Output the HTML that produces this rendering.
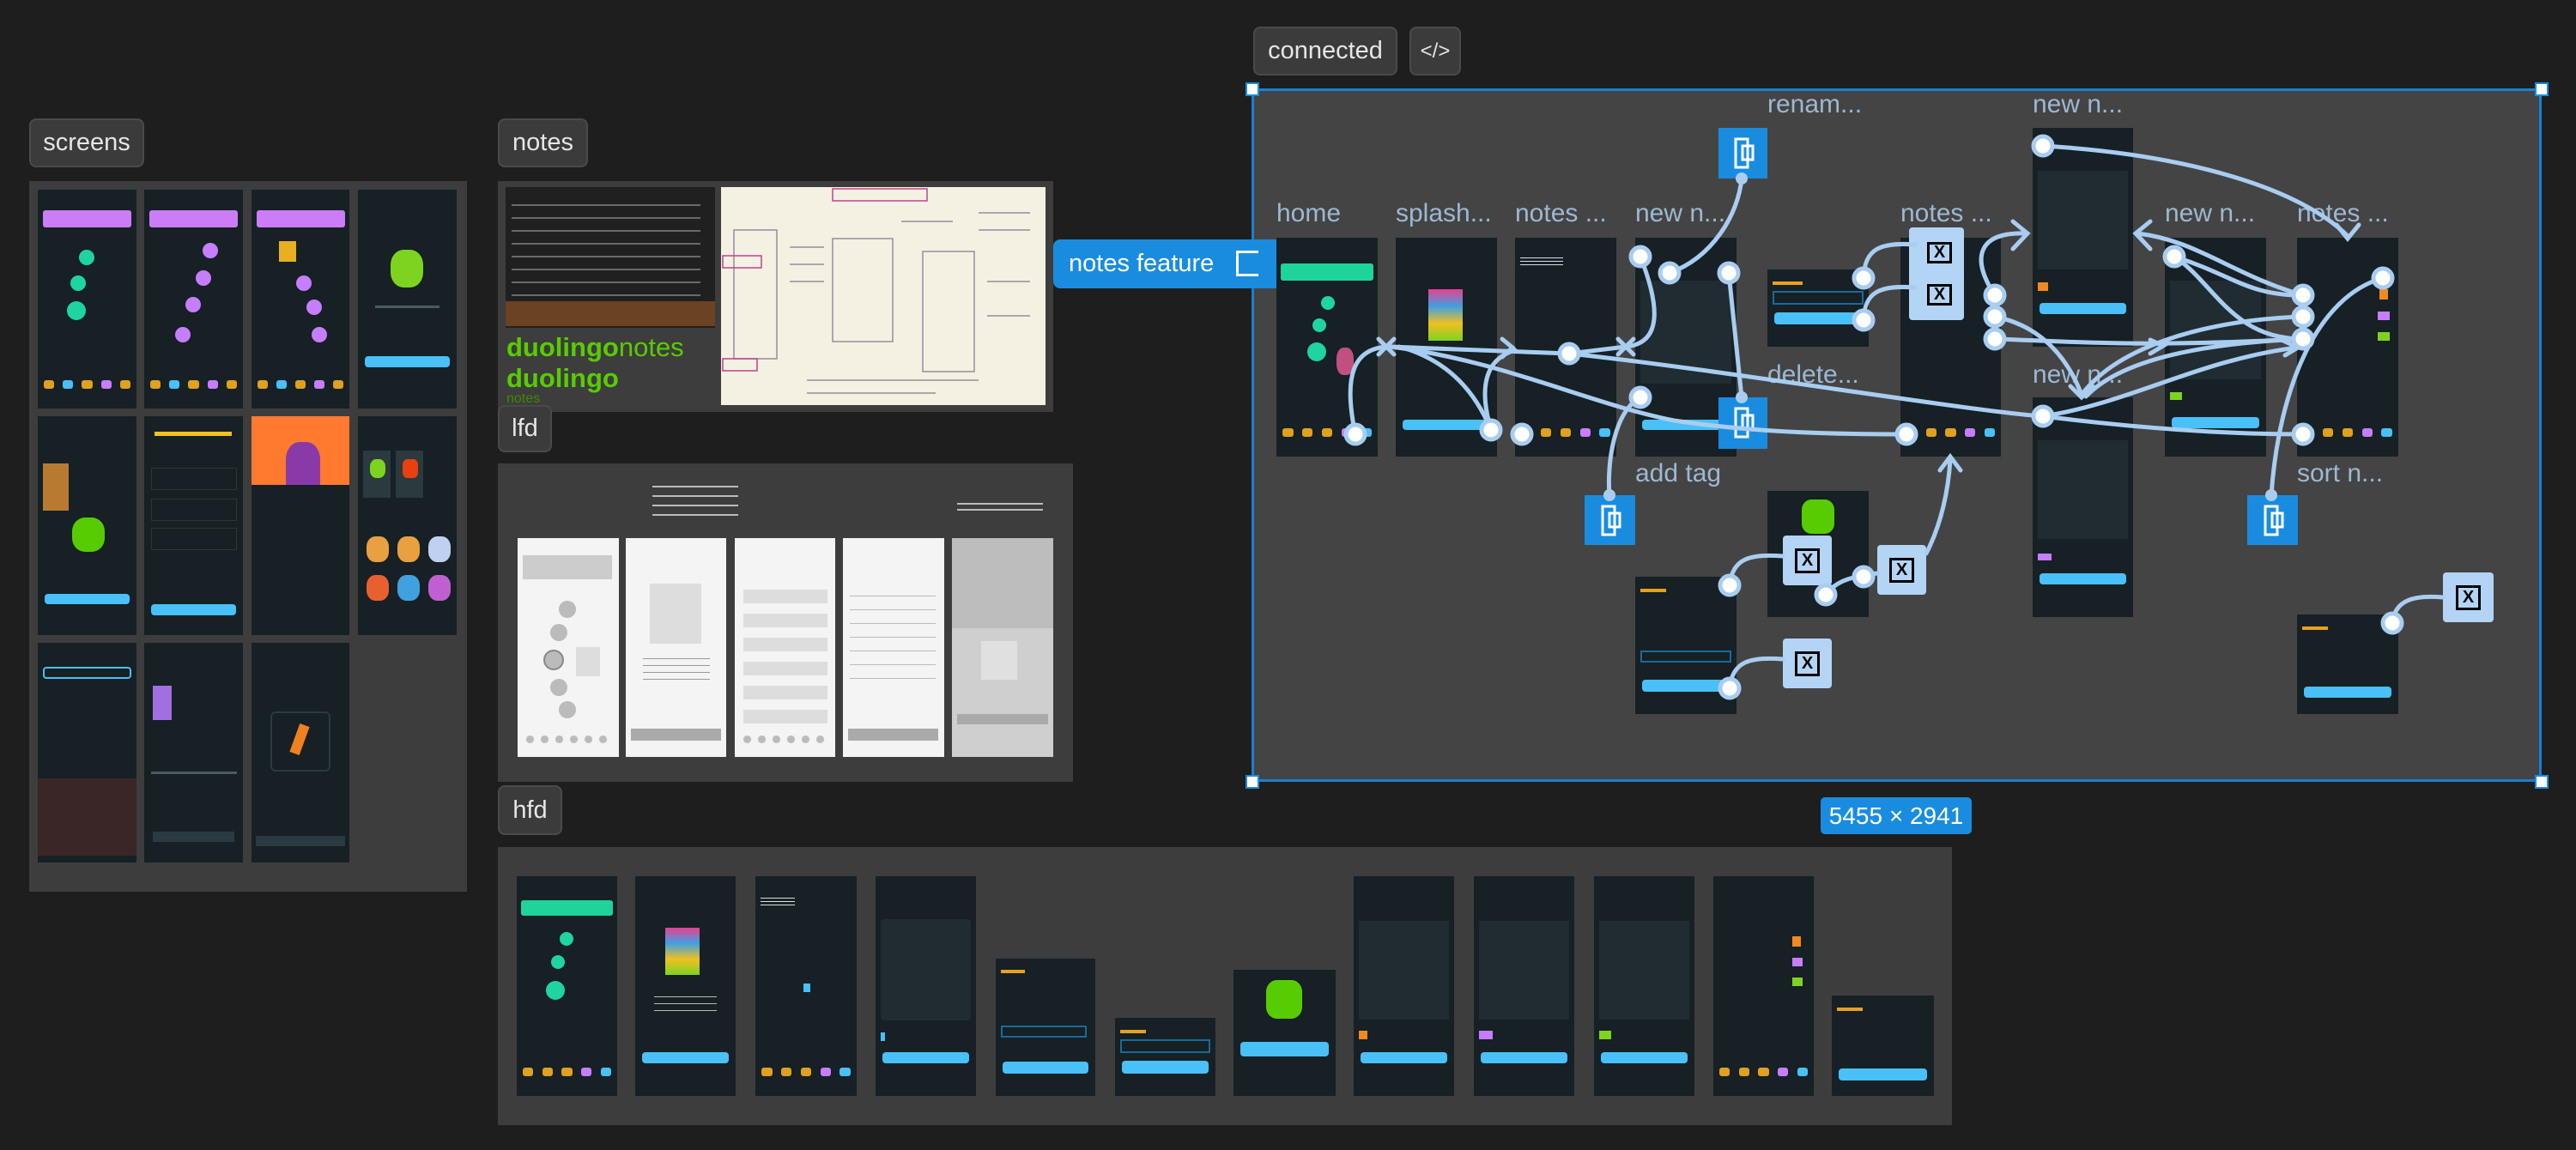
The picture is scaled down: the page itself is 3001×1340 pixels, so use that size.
<!DOCTYPE html>
<html><head><meta charset="utf-8"><style>
*{margin:0;padding:0;box-sizing:border-box}
body{width:3001px;height:1340px;background:#1e1e1e;position:relative;overflow:hidden;font-family:"Liberation Sans",sans-serif}
.a{position:absolute}
.tag{position:absolute;background:#3b3b3b;border:2px solid #4a4a4a;border-radius:8px;color:#e6e6e6;font-size:29px;display:flex;align-items:center;justify-content:center}
.panel{position:absolute;background:#3d3d3d}
.card{position:absolute;background:#162025}
.lbl{position:absolute;color:#9db8d2;font-size:30px;white-space:nowrap}
.nav{position:absolute;left:6%;right:6%;bottom:9%;height:4%;display:flex;justify-content:space-between}
.nav i{display:block;width:12%;height:100%;border-radius:3px;background:#e0a020}
.btn{position:absolute;left:7%;right:7%;height:5%;background:#49c0f8;border-radius:4px}
.ln{position:absolute;height:3px;background:#4a5a62}
.icon{position:absolute;background:#1a8ce0}
.xb{position:absolute;background:#b3d4f5;border-radius:4px}
.xb b{position:absolute;left:25%;top:25%;width:50%;height:50%;border:3px solid #000;color:#000;font-size:20px;display:flex;align-items:center;justify-content:center;font-weight:bold}
.h{position:absolute;width:16px;height:16px;background:#fff;border:2px solid #1a8ce0}
.lf{position:absolute;background:#f4f4f4}
</style></head><body>

<!-- screens -->
<div class="tag" style="left:34px;top:138px;width:134px;height:57px">screens</div>
<div class="panel" style="left:34px;top:211px;width:510px;height:828px"></div>
<!-- row1 -->
<div class="card" style="left:44px;top:221px;width:115px;height:255px"><div class="a" style="left:6px;top:24px;width:103px;height:20px;background:#cc7cf7;border-radius:3px"></div><div class="a" style="left:48px;top:70px;width:18px;height:18px;border-radius:50%;background:#1fd4a0"></div><div class="a" style="left:38px;top:100px;width:18px;height:18px;border-radius:50%;background:#1fd4a0"></div><div class="a" style="left:34px;top:130px;width:22px;height:22px;border-radius:50%;background:#1fd4a0"></div><div class="nav"><i></i><i style="background:#49c0f8"></i><i></i><i style="background:#c77dff"></i><i></i></div></div>
<div class="card" style="left:168px;top:221px;width:115px;height:255px"><div class="a" style="left:6px;top:24px;width:103px;height:20px;background:#cc7cf7;border-radius:3px"></div><div class="a" style="left:68px;top:62px;width:18px;height:18px;border-radius:50%;background:#c77dff"></div><div class="a" style="left:60px;top:94px;width:18px;height:18px;border-radius:50%;background:#c77dff"></div><div class="a" style="left:48px;top:125px;width:18px;height:18px;border-radius:50%;background:#c77dff"></div><div class="a" style="left:36px;top:160px;width:18px;height:18px;border-radius:50%;background:#c77dff"></div><div class="nav"><i></i><i style="background:#49c0f8"></i><i></i><i style="background:#c77dff"></i><i></i></div></div>
<div class="card" style="left:293px;top:221px;width:114px;height:255px"><div class="a" style="left:6px;top:24px;width:103px;height:20px;background:#cc7cf7;border-radius:3px"></div><div class="a" style="left:32px;top:60px;width:20px;height:24px;background:#e8b020"></div><div class="a" style="left:52px;top:100px;width:18px;height:18px;border-radius:50%;background:#c77dff"></div><div class="a" style="left:64px;top:128px;width:18px;height:18px;border-radius:50%;background:#c77dff"></div><div class="a" style="left:70px;top:160px;width:18px;height:18px;border-radius:50%;background:#c77dff"></div><div class="nav"><i></i><i style="background:#49c0f8"></i><i></i><i style="background:#c77dff"></i><i></i></div></div>
<div class="card" style="left:417px;top:221px;width:115px;height:255px"><div class="a" style="left:38px;top:70px;width:38px;height:44px;border-radius:40%;background:#7ed321"></div><div class="ln" style="left:20px;top:135px;width:75px"></div><div class="btn" style="top:76%"></div></div>
<!-- row2 -->
<div class="card" style="left:44px;top:485px;width:115px;height:255px"><div class="a" style="left:40px;top:118px;width:38px;height:40px;border-radius:40%;background:#58cc02"></div><div class="a" style="left:6px;top:55px;width:30px;height:55px;background:#b87a30"></div><div class="btn" style="top:81%"></div></div>
<div class="card" style="left:168px;top:485px;width:115px;height:255px"><div class="a" style="left:12px;top:18px;width:90px;height:5px;background:#f0c020"></div><div class="a" style="left:8px;top:60px;width:100px;height:26px;border:1px solid #333"></div><div class="a" style="left:8px;top:96px;width:100px;height:26px;border:1px solid #333"></div><div class="a" style="left:8px;top:130px;width:100px;height:26px;border:1px solid #333"></div><div class="btn" style="top:86%"></div></div>
<div class="card" style="left:293px;top:485px;width:114px;height:255px"><div class="a" style="left:0;top:0;width:114px;height:80px;background:#ff7a2e"></div><div class="a" style="left:40px;top:30px;width:40px;height:50px;background:#8a3aa8;border-radius:40% 40% 0 0"></div></div>
<div class="card" style="left:417px;top:485px;width:115px;height:255px"><div class="a" style="left:6px;top:40px;width:32px;height:55px;background:#2a3a3f"></div><div class="a" style="left:44px;top:40px;width:32px;height:55px;background:#2a3a3f"></div><div class="a" style="left:14px;top:50px;width:18px;height:22px;background:#7ed321;border-radius:40%"></div><div class="a" style="left:52px;top:50px;width:18px;height:22px;background:#e84010;border-radius:30%"></div><div class="a" style="left:10px;top:140px;width:26px;height:30px;background:#e8a040;border-radius:40%"></div><div class="a" style="left:46px;top:140px;width:26px;height:30px;background:#e8a040;border-radius:40%"></div><div class="a" style="left:82px;top:140px;width:26px;height:30px;background:#c0d0f0;border-radius:40%"></div><div class="a" style="left:10px;top:185px;width:26px;height:30px;background:#e86030;border-radius:40%"></div><div class="a" style="left:46px;top:185px;width:26px;height:30px;background:#40a0e0;border-radius:40%"></div><div class="a" style="left:82px;top:185px;width:26px;height:30px;background:#c060d0;border-radius:40%"></div></div>
<!-- row3 -->
<div class="card" style="left:44px;top:749px;width:115px;height:256px"><div class="a" style="left:6px;top:28px;width:103px;height:14px;border:2px solid #49c0f8;border-radius:4px"></div><div class="a" style="left:0;top:158px;width:115px;height:90px;background:#3a2626"></div></div>
<div class="card" style="left:168px;top:749px;width:115px;height:256px"><div class="a" style="left:10px;top:50px;width:22px;height:40px;background:#a070e0"></div><div class="ln" style="left:8px;top:150px;width:100px"></div><div class="a" style="left:10px;top:220px;width:95px;height:12px;background:#2a3a42"></div></div>
<div class="card" style="left:293px;top:749px;width:114px;height:256px"><div class="a" style="left:22px;top:80px;width:70px;height:70px;border:2px solid #2a3a42;border-radius:6px"></div><div class="a" style="left:50px;top:95px;width:12px;height:35px;background:#f08020;transform:rotate(20deg)"></div><div class="a" style="left:5px;top:225px;width:104px;height:12px;background:#2a3a42"></div></div>

<!-- notes -->
<div class="tag" style="left:580px;top:138px;width:105px;height:57px">notes</div>
<div class="panel" style="left:580px;top:211px;width:647px;height:269px"></div>
<div class="a" style="left:589px;top:218px;width:244px;height:164px;background:#202020"></div>
<div class="a" style="left:589px;top:351px;width:244px;height:29px;background:#6b4222"></div>
<div class="a" style="left:596px;top:228px;width:220px;height:120px;background:repeating-linear-gradient(#202020 0 10px,#6a6a6a 10px 12px,#202020 12px 15px)"></div>
<div class="a" style="left:590px;top:388px;color:#58cc02;font-size:31px;font-weight:bold;line-height:34px">duolingo<span style="font-weight:normal">notes</span></div>
<div class="a" style="left:590px;top:424px;color:#58cc02;font-size:31px;font-weight:bold;line-height:34px">duolingo</div>
<div class="a" style="left:590px;top:456px;color:#3c8a02;font-size:16px">notes</div>
<div class="a" style="left:840px;top:218px;width:378px;height:254px;background:#f4f1e2"></div>
<svg class="a" style="left:840px;top:218px" width="378" height="254"><g stroke="#9a8aa0" fill="none" stroke-width="1.5"><rect x="15" y="50" width="50" height="150"/><rect x="130" y="60" width="70" height="120"/><rect x="235" y="75" width="60" height="140"/><path d="M80 70h40M80 90h40M80 110h40M210 40h60M300 30h60M300 50h60M310 110h50M310 150h50M100 225h200M100 240h150"/></g><g stroke="#c04090" fill="none" stroke-width="1.5"><rect x="130" y="2" width="110" height="14"/><rect x="2" y="80" width="45" height="14"/><rect x="2" y="200" width="40" height="14"/></g></svg>

<!-- lfd -->
<div class="tag" style="left:580px;top:472px;width:63px;height:55px">lfd</div>
<div class="panel" style="left:580px;top:540px;width:670px;height:371px"></div>
<div class="a" style="left:760px;top:560px;width:100px;height:50px;background:repeating-linear-gradient(#3d3d3d 0 6px,#bbb 6px 8px,#3d3d3d 8px 11px)"></div>
<div class="a" style="left:1115px;top:582px;width:100px;height:14px;background:repeating-linear-gradient(#3d3d3d 0 4px,#bbb 4px 6px,#3d3d3d 6px 7px)"></div>
<div class="lf" style="left:603px;top:627px;width:118px;height:255px"><div class="a" style="left:6px;top:20px;width:104px;height:28px;background:#ccc"></div><div class="a" style="left:48px;top:73px;width:20px;height:20px;border-radius:50%;background:#bbb"></div><div class="a" style="left:38px;top:100px;width:20px;height:20px;border-radius:50%;background:#bbb"></div><div class="a" style="left:30px;top:130px;width:24px;height:24px;border-radius:50%;background:#bbb;border:2px solid #888"></div><div class="a" style="left:68px;top:127px;width:28px;height:34px;background:#ddd"></div><div class="a" style="left:38px;top:164px;width:20px;height:20px;border-radius:50%;background:#bbb"></div><div class="a" style="left:48px;top:190px;width:20px;height:20px;border-radius:50%;background:#bbb"></div><div class="a" style="left:6px;top:230px;width:104px;height:9px;background:radial-gradient(circle,#bbb 4px,transparent 5px) 0 0/17px 9px"></div></div>
<div class="lf" style="left:729px;top:627px;width:117px;height:255px"><div class="a" style="left:28px;top:53px;width:60px;height:70px;background:#ddd"></div><div class="a" style="left:20px;top:135px;width:78px;height:30px;background:repeating-linear-gradient(#f4f4f4 0 5px,#999 5px 6px,#f4f4f4 6px 8px)"></div><div class="a" style="left:6px;top:222px;width:105px;height:14px;background:#aaa"></div></div>
<div class="lf" style="left:856px;top:627px;width:117px;height:255px"><div class="a" style="left:10px;top:60px;width:98px;height:16px;background:#ddd"></div><div class="a" style="left:10px;top:88px;width:98px;height:16px;background:#ddd"></div><div class="a" style="left:10px;top:116px;width:98px;height:16px;background:#ddd"></div><div class="a" style="left:10px;top:144px;width:98px;height:16px;background:#ddd"></div><div class="a" style="left:10px;top:172px;width:98px;height:16px;background:#ddd"></div><div class="a" style="left:10px;top:200px;width:98px;height:16px;background:#ddd"></div><div class="a" style="left:6px;top:230px;width:104px;height:9px;background:radial-gradient(circle,#bbb 4px,transparent 5px) 0 0/17px 9px"></div></div>
<div class="lf" style="left:982px;top:627px;width:118px;height:255px"><div class="a" style="left:8px;top:55px;width:100px;height:120px;background:repeating-linear-gradient(#f4f4f4 0 12px,#bbb 12px 13px,#f4f4f4 13px 16px)"></div><div class="a" style="left:6px;top:222px;width:105px;height:14px;background:#aaa"></div></div>
<div class="lf" style="left:1109px;top:627px;width:118px;height:255px;background:#cfcfcf"><div class="a" style="left:0;top:0;width:118px;height:105px;background:#bdbdbd"></div><div class="a" style="left:34px;top:120px;width:42px;height:45px;background:#e0e0e0"></div><div class="a" style="left:6px;top:205px;width:106px;height:12px;background:#aaa"></div></div>

<!-- hfd -->
<div class="tag" style="left:580px;top:915px;width:75px;height:58px">hfd</div>
<div class="panel" style="left:580px;top:987px;width:1694px;height:324px"></div>
<div class="card" style="left:602px;top:1021px;width:117px;height:256px"><div class="a" style="left:5px;top:28px;width:107px;height:18px;background:#1fd49a;border-radius:3px"></div><div class="a" style="left:50px;top:65px;width:16px;height:16px;border-radius:50%;background:#1fd4a0"></div><div class="a" style="left:40px;top:92px;width:16px;height:16px;border-radius:50%;background:#1fd4a0"></div><div class="a" style="left:34px;top:122px;width:22px;height:22px;border-radius:50%;background:#1fd4a0"></div><div class="nav"><i></i><i></i><i></i><i style="background:#c77dff"></i><i style="background:#49c0f8"></i></div></div>
<div class="card" style="left:740px;top:1021px;width:117px;height:256px"><div class="a" style="left:35px;top:60px;width:40px;height:55px;background:linear-gradient(#e84090,#40a0e0,#f0c020,#7ed321)"></div><div class="a" style="left:22px;top:135px;width:73px;height:25px;background:repeating-linear-gradient(#162025 0 5px,#bbb 5px 6px,#162025 6px 8px)"></div><div class="btn" style="top:80%"></div></div>
<div class="card" style="left:880px;top:1021px;width:118px;height:256px"><div class="a" style="left:6px;top:22px;width:40px;height:12px;background:repeating-linear-gradient(#162025 0 3px,#ddd 3px 4px)"></div><div class="a" style="left:56px;top:125px;width:8px;height:10px;background:#49c0f8"></div><div class="nav"><i></i><i></i><i></i><i style="background:#c77dff"></i><i style="background:#49c0f8"></i></div></div>
<div class="card" style="left:1020px;top:1021px;width:117px;height:256px"><div class="a" style="left:6px;top:50px;width:105px;height:118px;background:#202c32;border-radius:4px"></div><div class="a" style="left:6px;top:182px;width:5px;height:10px;background:#49c0f8"></div><div class="btn" style="top:80%"></div></div>
<div class="card" style="left:1160px;top:1117px;width:116px;height:160px"><div class="a" style="left:6px;top:13px;width:28px;height:4px;background:#e8a020"></div><div class="a" style="left:6px;top:78px;width:100px;height:14px;border:2px solid #1a6a9a"></div><div class="btn" style="top:75%;height:9%"></div></div>
<div class="card" style="left:1299px;top:1186px;width:117px;height:91px"><div class="a" style="left:6px;top:14px;width:30px;height:4px;background:#e8a020"></div><div class="a" style="left:6px;top:25px;width:105px;height:16px;border:2px solid #1a6a9a"></div><div class="btn" style="top:55%;height:16%"></div></div>
<div class="card" style="left:1437px;top:1130px;width:119px;height:147px"><div class="a" style="left:38px;top:12px;width:42px;height:45px;background:#58cc02;border-radius:30%"></div><div class="btn" style="top:57%;height:12%"></div></div>
<div class="card" style="left:1577px;top:1021px;width:117px;height:256px"><div class="a" style="left:6px;top:52px;width:105px;height:115px;background:#202c32"></div><div class="a" style="left:6px;top:180px;width:10px;height:10px;background:#f08a20"></div><div class="btn" style="top:80%"></div></div>
<div class="card" style="left:1717px;top:1021px;width:117px;height:256px"><div class="a" style="left:6px;top:52px;width:105px;height:115px;background:#202c32"></div><div class="a" style="left:6px;top:180px;width:16px;height:10px;background:#c77dff"></div><div class="btn" style="top:80%"></div></div>
<div class="card" style="left:1857px;top:1021px;width:117px;height:256px"><div class="a" style="left:6px;top:52px;width:105px;height:115px;background:#202c32"></div><div class="a" style="left:6px;top:180px;width:14px;height:10px;background:#7ed321"></div><div class="btn" style="top:80%"></div></div>
<div class="card" style="left:1996px;top:1021px;width:117px;height:256px"><div class="a" style="left:92px;top:70px;width:10px;height:12px;background:#f08a20"></div><div class="a" style="left:92px;top:95px;width:12px;height:10px;background:#c77dff"></div><div class="a" style="left:92px;top:118px;width:12px;height:10px;background:#7ed321"></div><div class="nav"><i></i><i></i><i></i><i style="background:#c77dff"></i><i style="background:#49c0f8"></i></div></div>
<div class="card" style="left:2134px;top:1160px;width:119px;height:117px"><div class="a" style="left:6px;top:14px;width:30px;height:4px;background:#e8a020"></div><div class="btn" style="top:73%;height:12%"></div></div>

<!-- connected -->
<div class="tag" style="left:1460px;top:31px;width:168px;height:57px">connected</div>
<div class="tag" style="left:1642px;top:31px;width:60px;height:57px;font-size:24px">&lt;/&gt;</div>
<div class="a" style="left:1458px;top:103px;width:1503px;height:808px;background:#444;border:3px solid #1a7fd0"></div>
<div class="h" style="left:1451px;top:96px"></div><div class="h" style="left:2953px;top:96px"></div><div class="h" style="left:1451px;top:903px"></div><div class="h" style="left:2953px;top:903px"></div>
<div class="a" style="left:2121px;top:929px;width:176px;height:43px;background:#1a8ce0;border-radius:5px;color:#fff;font-size:28px;display:flex;align-items:center;justify-content:center">5455 × 2941</div>
<div class="a" style="left:1227px;top:279px;width:260px;height:57px;background:#1a8ce0;border-radius:8px 0 0 8px;color:#fff;font-size:29px;display:flex;align-items:center;padding-left:18px">notes feature</div>
<div class="a" style="left:1440px;top:292px;width:26px;height:30px;border:3px solid #fff;border-right:none"></div>

<div class="lbl" style="left:1487px;top:232px">home</div>
<div class="lbl" style="left:1626px;top:232px">splash...</div>
<div class="lbl" style="left:1765px;top:232px">notes ...</div>
<div class="lbl" style="left:1905px;top:232px">new n...</div>
<div class="lbl" style="left:2059px;top:105px">renam...</div>
<div class="lbl" style="left:2368px;top:105px">new n...</div>
<div class="lbl" style="left:2214px;top:232px">notes ...</div>
<div class="lbl" style="left:2522px;top:232px">new n...</div>
<div class="lbl" style="left:2676px;top:232px">notes ...</div>
<div class="lbl" style="left:2059px;top:420px">delete...</div>
<div class="lbl" style="left:2368px;top:420px">new n...</div>
<div class="lbl" style="left:1905px;top:535px">add tag</div>
<div class="lbl" style="left:2676px;top:535px">sort n...</div>

<div class="card" style="left:1487px;top:277px;width:118px;height:255px"><div class="a" style="left:5px;top:30px;width:108px;height:20px;background:#1fd49a;border-radius:3px"></div><div class="a" style="left:52px;top:68px;width:16px;height:16px;border-radius:50%;background:#1fd4a0"></div><div class="a" style="left:42px;top:94px;width:16px;height:16px;border-radius:50%;background:#1fd4a0"></div><div class="a" style="left:36px;top:122px;width:22px;height:22px;border-radius:50%;background:#1fd4a0"></div><div class="a" style="left:70px;top:128px;width:20px;height:32px;background:#c05080;border-radius:40%"></div><div class="nav"><i></i><i></i><i></i><i style="background:#c77dff"></i><i style="background:#49c0f8"></i></div></div>
<div class="card" style="left:1626px;top:277px;width:118px;height:255px"><div class="a" style="left:38px;top:60px;width:40px;height:60px;background:linear-gradient(#e84090,#40a0e0,#f0c020,#7ed321)"></div><div class="btn" style="top:83%"></div></div>
<div class="card" style="left:1765px;top:277px;width:118px;height:255px"><div class="a" style="left:6px;top:20px;width:50px;height:12px;background:repeating-linear-gradient(#162025 0 3px,#ddd 3px 4px)"></div><div class="nav"><i></i><i></i><i></i><i style="background:#c77dff"></i><i style="background:#49c0f8"></i></div></div>
<div class="card" style="left:1905px;top:277px;width:118px;height:255px"><div class="a" style="left:6px;top:50px;width:106px;height:120px;background:#202c32"></div><div class="btn" style="top:83%"></div></div>
<div class="card" style="left:2059px;top:314px;width:118px;height:90px"><div class="a" style="left:6px;top:14px;width:35px;height:4px;background:#e8a020"></div><div class="a" style="left:6px;top:25px;width:106px;height:16px;border:2px solid #1a6a9a"></div><div class="btn" style="top:55%;height:16%"></div></div>
<div class="card" style="left:2059px;top:572px;width:118px;height:147px"><div class="a" style="left:40px;top:10px;width:38px;height:40px;background:#58cc02;border-radius:30%"></div></div>
<div class="card" style="left:1905px;top:672px;width:118px;height:160px"><div class="a" style="left:6px;top:14px;width:30px;height:4px;background:#e8a020"></div><div class="a" style="left:6px;top:86px;width:106px;height:14px;border:2px solid #1a6a9a"></div><div class="btn" style="top:75%;height:9%"></div></div>
<div class="card" style="left:2214px;top:277px;width:117px;height:255px"><div class="nav"><i></i><i></i><i></i><i style="background:#c77dff"></i><i style="background:#49c0f8"></i></div></div>
<div class="card" style="left:2368px;top:149px;width:117px;height:255px"><div class="a" style="left:6px;top:50px;width:105px;height:115px;background:#202c32"></div><div class="a" style="left:6px;top:180px;width:12px;height:10px;background:#f08a20"></div><div class="btn" style="top:80%"></div></div>
<div class="card" style="left:2368px;top:463px;width:117px;height:256px"><div class="a" style="left:6px;top:50px;width:105px;height:115px;background:#202c32"></div><div class="a" style="left:6px;top:182px;width:16px;height:8px;background:#c77dff"></div><div class="btn" style="top:80%"></div></div>
<div class="card" style="left:2522px;top:277px;width:118px;height:255px"><div class="a" style="left:6px;top:50px;width:106px;height:115px;background:#202c32"></div><div class="a" style="left:6px;top:180px;width:14px;height:9px;background:#7ed321"></div><div class="btn" style="top:82%"></div></div>
<div class="card" style="left:2676px;top:277px;width:118px;height:255px"><div class="a" style="left:96px;top:60px;width:10px;height:12px;background:#f08a20"></div><div class="a" style="left:94px;top:86px;width:14px;height:10px;background:#c77dff"></div><div class="a" style="left:94px;top:110px;width:14px;height:10px;background:#7ed321"></div><div class="nav"><i></i><i></i><i></i><i style="background:#c77dff"></i><i style="background:#49c0f8"></i></div></div>
<div class="card" style="left:2676px;top:716px;width:118px;height:116px"><div class="a" style="left:6px;top:14px;width:30px;height:4px;background:#e8a020"></div><div class="btn" style="top:72%;height:12%"></div></div>

<div class="icon" style="left:2002px;top:149px;width:57px;height:59px"></div>
<div class="icon" style="left:2002px;top:463px;width:57px;height:60px"></div>
<div class="icon" style="left:1846px;top:577px;width:59px;height:58px"></div>
<div class="icon" style="left:2618px;top:577px;width:59px;height:58px"></div>
<svg class="a" style="left:0;top:0" width="3001" height="1340">
<g fill="none" stroke="#fff" stroke-width="3"><g id="ic"><rect x="2022" y="162" width="14" height="33"/><rect x="2030" y="170" width="12" height="16"/></g>
<rect x="2022" y="476" width="14" height="33"/><rect x="2030" y="484" width="12" height="16"/>
<rect x="1867" y="590" width="14" height="33"/><rect x="1875" y="598" width="12" height="16"/>
<rect x="2639" y="590" width="14" height="33"/><rect x="2647" y="598" width="12" height="16"/></g>
</svg>

<div class="xb" style="left:2224px;top:265px;width:64px;height:108px"></div>
<div class="xb" style="left:2231px;top:269px;width:57px;height:50px"><b>X</b></div>
<div class="xb" style="left:2231px;top:318px;width:57px;height:50px"><b>X</b></div>
<div class="xb" style="left:2077px;top:624px;width:57px;height:58px"><b>X</b></div>
<div class="xb" style="left:2187px;top:635px;width:57px;height:58px"><b>X</b></div>
<div class="xb" style="left:2077px;top:744px;width:57px;height:58px"><b>X</b></div>
<div class="xb" style="left:2846px;top:667px;width:59px;height:58px"><b>X</b></div>

<svg class="a" style="left:0;top:0" width="3001" height="1340">
<g fill="none" stroke="#a8cdf0" stroke-width="5" stroke-linecap="round">
<path d="M1579,506 C1565,440 1575,404 1620,404 L1828,412 L1894,404 C1935,400 1935,360 1911,299"/>
<path d="M1737,501 C1720,460 1690,420 1630,404"/>
<path d="M1737,501 C1725,460 1725,420 1765,408"/>
<path d="M1828,412 C2000,430 2300,480 2380,485"/>
<path d="M1620,404 C1750,420 1850,470 1950,490 C2050,505 2150,506 2221,506"/>
<path d="M1911,463 C1880,480 1872,540 1875,577"/>
<path d="M1945,318 C1995,300 2025,250 2029,208"/>
<path d="M2014,318 C2020,380 2026,430 2029,463"/>
<path d="M2171,324 C2172,290 2190,282 2231,285"/>
<path d="M2171,373 C2172,340 2190,332 2231,335"/>
<path d="M2324,344 C2295,300 2305,270 2360,272"/>
<path d="M2324,369 C2380,380 2410,420 2425,460"/>
<path d="M2324,395 C2420,398 2480,405 2683,395"/>
<path d="M2380,170 C2550,180 2680,220 2735,275"/>
<path d="M2533,299 C2600,320 2620,345 2683,344"/>
<path d="M2533,299 C2580,330 2600,395 2683,395"/>
<path d="M2683,344 C2600,320 2560,280 2490,272"/>
<path d="M2683,369 C2580,372 2470,400 2425,460"/>
<path d="M2683,395 C2560,400 2470,420 2430,462"/>
<path d="M2380,485 C2480,470 2560,420 2675,405"/>
<path d="M2380,485 C2500,500 2600,506 2683,506"/>
<path d="M2776,324 C2700,345 2655,450 2646,577"/>
<path d="M2015,682 C2018,650 2040,645 2077,648"/>
<path d="M2015,802 C2018,770 2040,765 2077,768"/>
<path d="M2127,693 C2140,675 2160,672 2187,668"/>
<path d="M2244,645 C2262,610 2270,570 2272,535"/>
<path d="M2787,726 C2790,700 2810,693 2846,696"/>
<path d="M1750,395 L1762,405 L1750,416"/>
<path d="M2345,258 L2362,272 L2345,290"/>
<path d="M2505,258 L2488,272 L2505,290"/>
<path d="M2722,262 L2735,278 L2748,262"/>
<path d="M2412,450 L2425,463 L2438,450"/>
<path d="M2260,548 L2272,532 L2284,548"/>
<path d="M2505,396 L2520,403 L2505,412"/>
<path d="M2660,397 L2677,405 L2662,414"/>
<path d="M1606,395 L1624,413 M1624,395 L1606,413"/>
<path d="M1885,395 L1903,413 M1903,395 L1885,413"/>
</g>
<g fill="#fff" stroke="#a8cdf0" stroke-width="5">
<circle cx="1579" cy="506" r="11"/><circle cx="1737" cy="501" r="11"/><circle cx="1773" cy="506" r="11"/><circle cx="1828" cy="412" r="11"/>
<circle cx="1911" cy="299" r="11"/><circle cx="1945" cy="318" r="11"/><circle cx="2014" cy="318" r="11"/><circle cx="1911" cy="463" r="11"/>
<circle cx="2171" cy="324" r="11"/><circle cx="2171" cy="373" r="11"/><circle cx="2221" cy="506" r="11"/>
<circle cx="2324" cy="344" r="11"/><circle cx="2324" cy="369" r="11"/><circle cx="2324" cy="395" r="11"/>
<circle cx="2380" cy="170" r="11"/><circle cx="2380" cy="485" r="11"/><circle cx="2533" cy="299" r="11"/>
<circle cx="2683" cy="344" r="11"/><circle cx="2683" cy="369" r="11"/><circle cx="2683" cy="395" r="11"/>
<circle cx="2776" cy="324" r="11"/><circle cx="2683" cy="506" r="11"/>
<circle cx="2015" cy="682" r="11"/><circle cx="2127" cy="693" r="11"/><circle cx="2171" cy="672" r="11"/><circle cx="2015" cy="802" r="11"/><circle cx="2787" cy="726" r="11"/>
</g>
<g fill="#a8cdf0"><circle cx="2029" cy="208" r="7"/><circle cx="2029" cy="463" r="7"/><circle cx="1875" cy="577" r="7"/><circle cx="2646" cy="577" r="7"/></g>
</svg>
</body></html>
